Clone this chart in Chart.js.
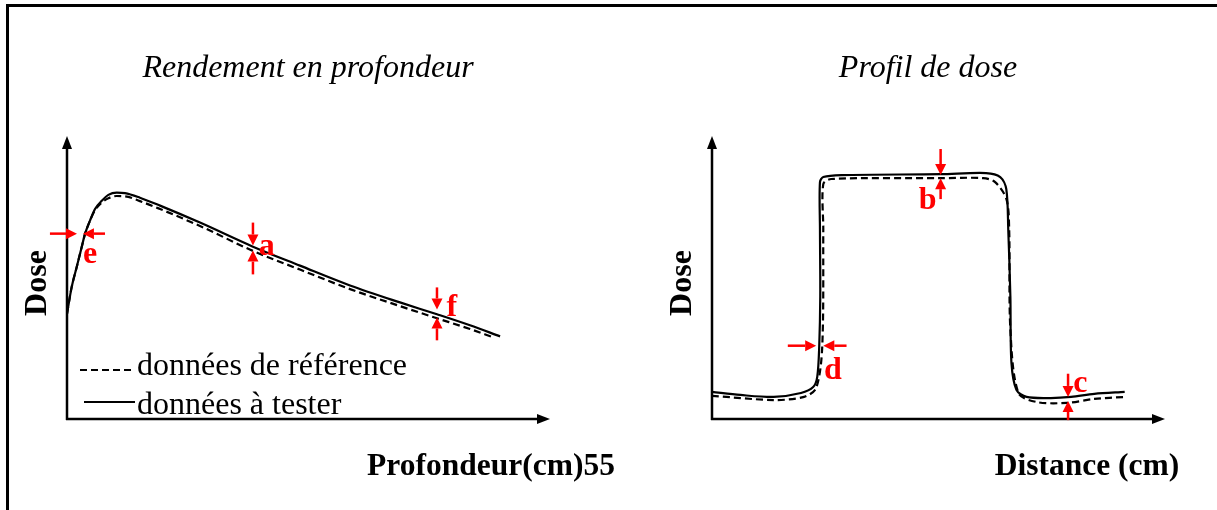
<!DOCTYPE html>
<html>
<head>
<meta charset="utf-8">
<script src="https://cdn.jsdelivr.net/npm/chart.js@4.4.1/dist/chart.umd.min.js"></script>
<style>
  body { margin: 0; background: #fff; width: 1217px; height: 510px; overflow: hidden; position: relative; }
  #frame { position: absolute; left: 6px; top: 4px; width: 1220px; height: 520px; border-left: 3px solid #000; border-top: 3px solid #000; }
  canvas { position: absolute; top: 0; }
  #depthChart { left: 0; }
  #profileChart { left: 608px; }
</style>
</head>
<body>
<div id="frame"></div>
<canvas id="depthChart" width="650" height="510"></canvas>
<canvas id="profileChart" width="609" height="510"></canvas>
<script>
// Rendement en profondeur (depth in cm, dose in % of axis height)
const depthTest = [0, 0.29, 0.60, 0.91, 1.12, 1.43, 1.74, 2.16, 2.57, 3.09, 3.6, 4.53, 5.78, 8.26, 11.55, 14.47, 17.58, 20.68, 22.98, 25.03, 26.9];
const doseTest  = [37.2, 46.6, 53.6, 60.7, 65.4, 70.1, 74.2, 77.1, 79.2, 80.0, 79.8, 78.2, 75.4, 69.4, 60.9, 54.2, 47.2, 41.2, 37.0, 33.1, 29.2];
const depthRef  = [0, 0.29, 0.60, 0.91, 1.12, 1.43, 1.74, 2.16, 2.57, 3.09, 3.6, 4.53, 5.78, 8.26, 11.55, 14.47, 17.58, 20.68, 22.98, 25.03, 26.46];
const doseRef   = [37.2, 46.6, 53.6, 60.7, 65.4, 70.1, 73.8, 76.5, 78.0, 78.8, 78.7, 77.0, 74.2, 68.2, 59.4, 52.8, 45.9, 39.9, 35.6, 31.8, 28.9];

// Profil de dose (distance in cm, dose in %)
const distTest = [0, 1.88, 4.09, 5.89, 6.70, 6.97, 7.10, 7.17, 7.15, 7.15, 7.37, 8.57, 15.14, 18.15, 19.09, 19.49, 19.62, 19.76, 19.83, 20.16, 20.83, 22.44, 23.78, 25.32, 27.33];
const profTest = [9.6, 8.5, 7.8, 9.2, 11.3, 14.9, 25.5, 43.3, 67.0, 83.7, 85.5, 86.2, 86.5, 86.9, 85.5, 81.2, 67.0, 43.3, 19.9, 10.3, 7.8, 7.4, 7.8, 8.9, 9.6];
const distRef  = [0, 4.09, 6.10, 6.90, 7.30, 7.37, 7.37, 7.90, 15.14, 17.95, 18.75, 19.50, 19.68, 19.76, 20.29, 21.50, 23.51, 25.32, 27.33];
const profRef  = [8.2, 6.7, 7.8, 11.0, 25.5, 67.0, 83.0, 84.8, 85.1, 85.1, 83.7, 77.7, 67.0, 31.6, 9.2, 6.0, 5.7, 7.1, 7.8];

// Red gap markers: [x1, y1, x2, y2] arrows in data units, letters [text, x, y]
const depthArrows  = [[-1.06, 65.5, 0.62, 65.5], [2.36, 65.5, 0.99, 65.5],
                      [11.55, 69.4, 11.55, 61.3], [11.55, 51.1, 11.55, 59.5],
                      [22.98, 46.5, 22.98, 38.7], [22.98, 27.8, 22.98, 35.9]];
const depthLetters = [['e', 1.43, 58.0], ['a', 12.4, 61.0], ['f', 23.9, 39.3]];
const profArrows   = [[15.14, 95.4, 15.14, 86.2], [15.14, 77.7, 15.14, 85.1],
                      [5.02, 25.9, 6.90, 25.9], [8.91, 25.9, 7.37, 25.9],
                      [23.58, 16.0, 23.58, 7.8], [23.58, -0.4, 23.58, 6.4]];
const profLetters  = [['b', 14.28, 77.3], ['d', 8.0, 17.0], ['c', 24.4, 12.4]];

const legendLabels = ['données de référence', 'données à tester'];

function toPoints(xs, ys) {
  return xs.map((x, i) => ({ x: x, y: ys[i] }));
}

function drawArrow(ctx, x1, y1, x2, y2, head, half) {
  const ang = Math.atan2(y2 - y1, x2 - x1);
  const bx = x2 - head * Math.cos(ang), by = y2 - head * Math.sin(ang);
  ctx.beginPath();
  ctx.moveTo(x1, y1);
  ctx.lineTo(bx, by);
  ctx.stroke();
  ctx.beginPath();
  ctx.moveTo(x2, y2);
  ctx.lineTo(bx + half * Math.sin(ang), by - half * Math.cos(ang));
  ctx.lineTo(bx - half * Math.sin(ang), by + half * Math.cos(ang));
  ctx.closePath();
  ctx.fill();
}

const schemaPlugin = {
  id: 'schema',
  afterDraw(chart, args, opts) {
    const { ctx, chartArea: a, scales: { x, y } } = chart;
    ctx.save();
    // axes with arrow heads
    ctx.strokeStyle = '#000';
    ctx.fillStyle = '#000';
    ctx.lineWidth = 2.5;
    drawArrow(ctx, a.left, a.bottom + 1, a.left, a.top, 13, 5);
    drawArrow(ctx, a.left - 1, a.bottom, a.right, a.bottom, 13, 5);

    // title
    ctx.textAlign = 'center';
    ctx.textBaseline = 'alphabetic';
    ctx.font = 'italic 32px "Liberation Serif"';
    ctx.fillText(opts.title, opts.titlePos[0], opts.titlePos[1]);

    // axis titles
    ctx.font = 'bold 31.5px "Liberation Serif"';
    ctx.fillText(opts.xLabel, opts.xLabelPos[0], opts.xLabelPos[1]);
    ctx.save();
    ctx.translate(opts.yLabelPos[0], opts.yLabelPos[1]);
    ctx.rotate(-Math.PI / 2);
    ctx.textBaseline = 'middle';
    ctx.font = 'bold 32px "Liberation Serif"';
    ctx.fillText('Dose', 0, 0);
    ctx.restore();

    // legend
    if (opts.legend) {
      const ds = chart.data.datasets;
      ctx.font = '32px "Liberation Serif"';
      ctx.textAlign = 'left';
      ctx.lineWidth = 2;
      ds.forEach((d, i) => {
        const ly = opts.legend.y[i];
        ctx.setLineDash(d.borderDash || []);
        ctx.beginPath();
        ctx.moveTo(opts.legend.lineX[i], opts.legend.lineY[i]);
        ctx.lineTo(opts.legend.textX - 2, opts.legend.lineY[i]);
        ctx.stroke();
        ctx.setLineDash([]);
        ctx.fillText(d.label, opts.legend.textX, ly);
      });
    }

    // red markers
    ctx.strokeStyle = '#ff0000';
    ctx.fillStyle = '#ff0000';
    ctx.lineWidth = 2.5;
    opts.arrows.forEach(r => {
      drawArrow(ctx, x.getPixelForValue(r[0]), y.getPixelForValue(r[1]),
        x.getPixelForValue(r[2]), y.getPixelForValue(r[3]), 11, 5.5);
    });
    ctx.font = 'bold 32px "Liberation Serif"';
    ctx.textAlign = 'center';
    ctx.textBaseline = 'middle';
    opts.letters.forEach(l => {
      ctx.fillText(l[0], x.getPixelForValue(l[1]), y.getPixelForValue(l[2]));
    });
    ctx.restore();
  }
};

function makeChart(id, refPts, testPts, padding, curve, schema) {
  return new Chart(document.getElementById(id), {
    type: 'line',
    data: {
      datasets: [
        {
          label: legendLabels[0],
          data: refPts,
          borderColor: '#000',
          borderWidth: 2.2,
          borderDash: [7, 4],
          pointRadius: 0,
          tension: curve.tension,
          cubicInterpolationMode: curve.mode,
          fill: false
        },
        {
          label: legendLabels[1],
          data: testPts,
          borderColor: '#000',
          borderWidth: 2.2,
          pointRadius: 0,
          tension: curve.tension,
          cubicInterpolationMode: curve.mode,
          fill: false
        }
      ]
    },
    options: {
      responsive: false,
      animation: false,
      layout: { padding: padding },
      scales: {
        x: { type: 'linear', min: 0, max: 30, display: false },
        y: { min: 0, max: 100, display: false }
      },
      plugins: {
        legend: { display: false },
        tooltip: { enabled: false },
        schema: schema
      }
    },
    plugins: [schemaPlugin]
  });
}

makeChart('depthChart', toPoints(depthRef, doseRef), toPoints(depthTest, doseTest),
  { left: 67, right: 100, top: 136, bottom: 91 }, { tension: 0.4, mode: 'monotone' }, {
    title: 'Rendement en profondeur',
    titlePos: [308, 77],
    xLabel: 'Profondeur(cm)55',
    xLabelPos: [491, 475],
    yLabelPos: [38, 283],
    legend: { y: [375, 414], lineY: [370, 402], lineX: [80, 84], textX: 137 },
    arrows: depthArrows,
    letters: depthLetters
  });

makeChart('profileChart', toPoints(distRef, profRef), toPoints(distTest, profTest),
  { left: 104, right: 52, top: 136, bottom: 91 }, { tension: 0.3, mode: 'default' }, {
    title: 'Profil de dose',
    titlePos: [320, 77],
    xLabel: 'Distance (cm)',
    xLabelPos: [479, 475],
    yLabelPos: [75, 283],
    legend: null,
    arrows: profArrows,
    letters: profLetters
  });
</script>
</body>
</html>
